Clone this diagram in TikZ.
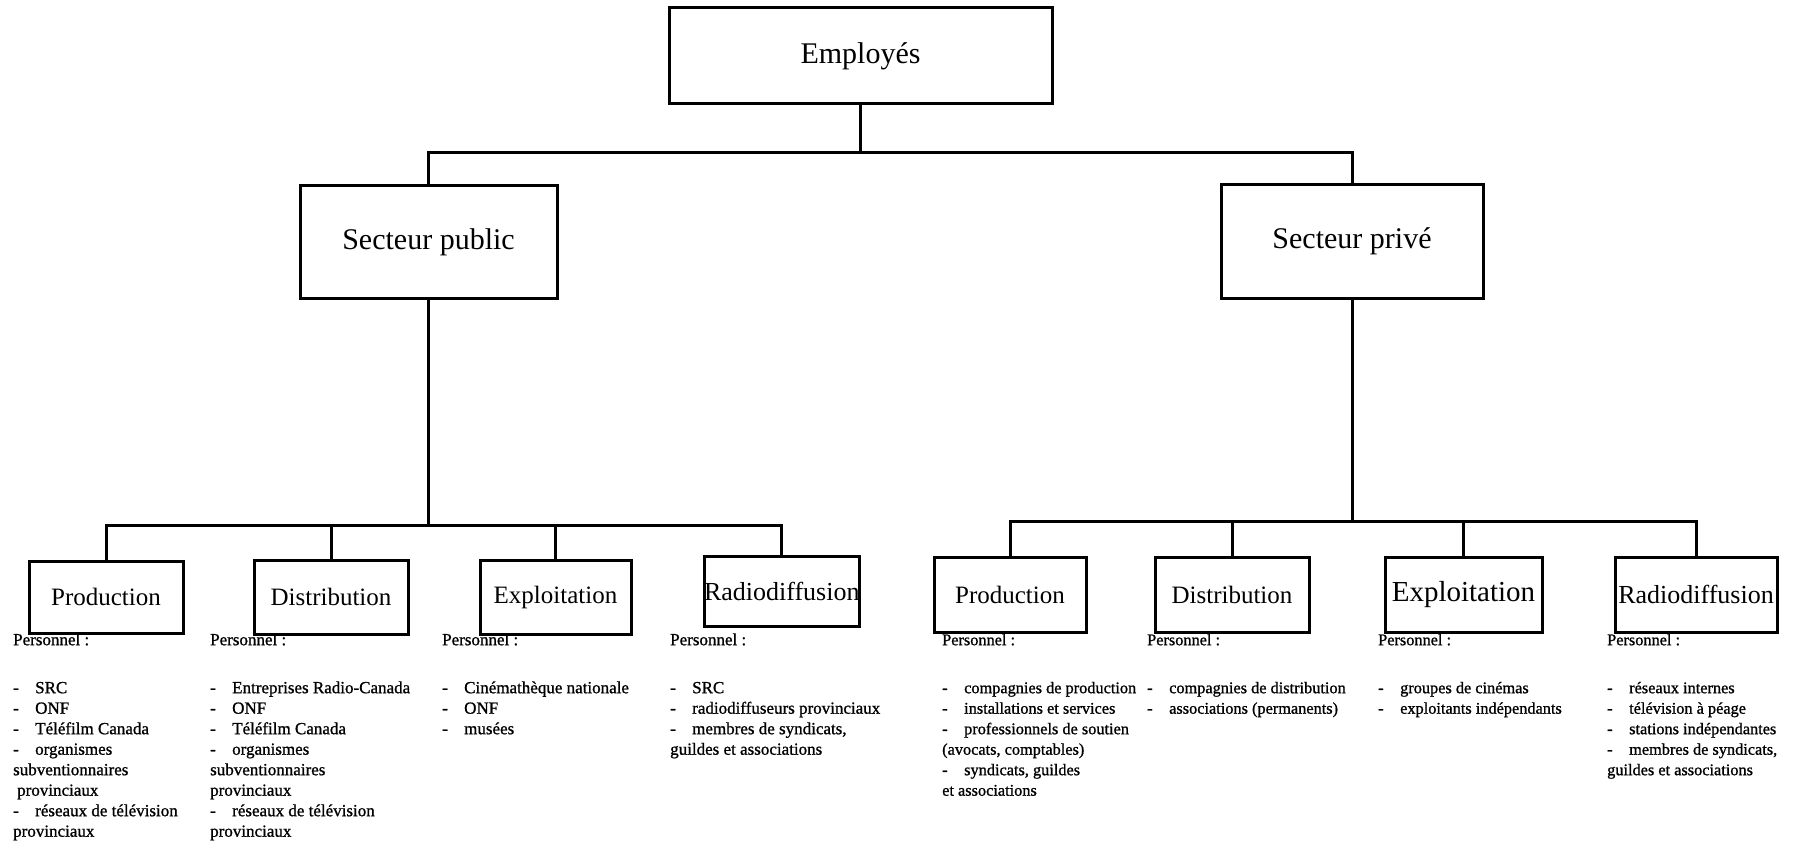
\documentclass[tikz,border=0pt]{standalone}
\usepackage{fontspec}
\setmainfont{Liberation Serif}
\newfontfamily\listfont[FakeBold=1]{Liberation Serif}
\usepackage{tikz}
\usetikzlibrary{positioning}
\tikzstyle{block} = [draw, line width=3pt, rectangle, inner sep=0pt, minimum width=154pt, minimum height=74pt, font=\fontsize{25}{30}\selectfont]
\tikzstyle{bigblock} = [block, font=\fontsize{30}{36}\selectfont]
\tikzstyle{liste} = [anchor=north west, align=left, inner sep=0pt, font=\listfont\fontsize{17}{20.5}\selectfont]
\tikzstyle{listeB} = [liste, font=\listfont\fontsize{16.3}{20.5}\selectfont]
\tikzstyle{link} = [line width=3pt]
\newcommand{\tiret}{\makebox[22pt][l]{-}}
\newcommand{\haut}{\rule{0pt}{14pt}}

\begin{document}
\begin{tikzpicture}[x=1pt, y=-1pt]
		\useasboundingbox (0,0) rectangle (1813,845);

		\node [bigblock, minimum width=383pt, minimum height=96pt] (emp) at (860.5,56) {Employés};
		\node [bigblock, minimum width=257pt, minimum height=112pt] (pub) at (428.5,242) {Secteur public};
		\node [bigblock, minimum width=262pt, minimum height=113pt] (priv) at (1352,241.5) {Secteur privé};

		% secteur public
		\node [block, minimum height=72pt] (prodA) at (106,597) {Production};
		\node [block, right=68pt of prodA] (distA) {Distribution};
		\node [block, minimum width=151pt, right=69pt of distA] (explA) {Exploitation};
		\node [block, minimum width=150pt, minimum height=70pt, font=\fontsize{26}{30}\selectfont, right=70pt of explA, yshift=6pt] (radA) {Radiodiffusion};

		% secteur prive
		\node [block, minimum width=152pt, minimum height=75pt] (prodB) at (1010,594.5) {Production};
		\node [block, minimum height=75pt, right=66pt of prodB] (distB) {Distribution};
		\node [block, minimum width=157pt, minimum height=75pt, font=\fontsize{29}{34}\selectfont, right=73pt of distB] (explB) {Exploitation};
		\node [block, minimum width=162pt, minimum height=75pt, font=\fontsize{26}{30}\selectfont, right=70pt of explB] (radB) {Radiodiffusion};

		\coordinate (top) at (emp.south |- 0,153);
		\draw [link] (emp.south) -- (top);
		\draw [link] (pub.north) |- (top) -| (priv.north);

		\coordinate (busA) at (pub.south |- 0,525);
		\draw [link] (pub.south) -- (busA);
		\draw [link] (prodA.north) |- (busA) -| (radA.north);
		\draw [link] (distA.north) -- (distA.north |- busA);
		\draw [link] (explA.north) -- (explA.north |- busA);

		\coordinate (busB) at (priv.south |- 0,521);
		\draw [link] (priv.south) -- (busB);
		\draw [link] (prodB.north) |- (busB) -| (radB.north);
		\draw [link] (distB.north) -- (distB.north |- busB);
		\draw [link] (explB.north) -- (explB.north |- busB);

		% personnel
		\node [liste] (lstProdA) at (13,631) {\haut Personnel :\\[27.5pt]
			\tiret SRC\\
			\tiret ONF\\
			\tiret Téléfilm Canada\\
			\tiret organismes\\
			subventionnaires\\
			\hspace{4pt}provinciaux\\
			\tiret réseaux de télévision\\
			provinciaux};
		\node [liste] (lstDistA) at (210,631) {\haut Personnel :\\[27.5pt]
			\tiret Entreprises Radio-Canada\\
			\tiret ONF\\
			\tiret Téléfilm Canada\\
			\tiret organismes\\
			subventionnaires\\
			provinciaux\\
			\tiret réseaux de télévision\\
			provinciaux};
		\node [liste] (lstExplA) at (442,631) {\haut Personnel :\\[27.5pt]
			\tiret Cinémathèque nationale\\
			\tiret ONF\\
			\tiret musées};
		\node [liste] (lstRadA) at (670,631) {\haut Personnel :\\[27.5pt]
			\tiret SRC\\
			\tiret radiodiffuseurs provinciaux\\
			\tiret membres de syndicats,\\
			guildes et associations};
		\node [listeB] (lstProdB) at (942,631) {\haut Personnel :\\[27.5pt]
			\tiret compagnies de production\\
			\tiret installations et services\\
			\tiret professionnels de soutien\\
			(avocats, comptables)\\
			\tiret syndicats, guildes\\
			et associations};
		\node [listeB] (lstDistB) at (1147,631) {\haut Personnel :\\[27.5pt]
			\tiret compagnies de distribution\\
			\tiret associations (permanents)};
		\node [listeB] (lstExplB) at (1378,631) {\haut Personnel :\\[27.5pt]
			\tiret groupes de cinémas\\
			\tiret exploitants indépendants};
		\node [listeB] (lstRadB) at (1607,631) {\haut Personnel :\\[27.5pt]
			\tiret réseaux internes\\
			\tiret télévision à péage\\
			\tiret stations indépendantes\\
			\tiret membres de syndicats,\\
			guildes et associations};
	\end{tikzpicture}
\end{document}
